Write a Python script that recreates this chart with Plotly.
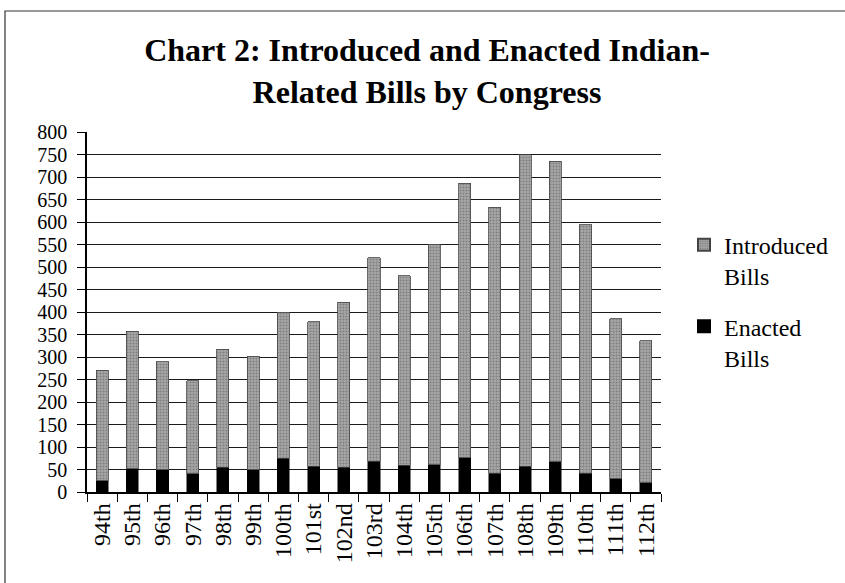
import plotly.graph_objects as go

congresses = ["94th", "95th", "96th", "97th", "98th", "99th", "100th", "101st", "102nd",
              "103rd", "104th", "105th", "106th", "107th", "108th", "109th", "110th",
              "111th", "112th"]
enacted = [25, 52, 49, 41, 55, 49, 75, 57, 55, 68, 59, 61, 76, 42, 57, 67, 42, 30, 21]
introduced = [246, 305, 240, 206, 262, 253, 325, 321, 367, 453, 422, 490, 610, 591,
              692, 668, 552, 355, 315]
y_ticks = list(range(0, 801, 50))

serif = "Liberation Serif, Times New Roman, serif"

fig = go.Figure()
fig.add_trace(go.Bar(
    x=congresses, y=enacted, name="Enacted<br>Bills", legendgroup="enacted",
    legendrank=2,
    marker=dict(color="#000000", line=dict(color="#000000", width=0.5)),
))
fig.add_trace(go.Bar(
    x=congresses, y=introduced, name="Introduced<br>Bills", legendgroup="introduced",
    legendrank=1,
    marker=dict(color="#9a9a9a",
                line=dict(color="#444444", width=0.8),
                pattern=dict(shape=".", fgcolor="#555555", bgcolor="#a8a8a8",
                             size=3, solidity=0.4)),
))

fig.update_layout(
    barmode="stack",
    bargap=0.6,
    width=845, height=583,
    margin=dict(l=87, r=184, t=132, b=91, autoexpand=False),
    paper_bgcolor="white", plot_bgcolor="white",
    font=dict(family=serif, color="#000000"),
    title=dict(text="<b>Chart 2: Introduced and Enacted Indian-<br>Related Bills by Congress</b>",
               font=dict(family=serif, size=32, color="#000000"),
               x=(427 - 87) / 574, xref="paper", xanchor="center",
               y=1 - 61 / 583, yref="container", yanchor="middle"),
    legend=dict(x=(684 - 87) / 574, xanchor="left", y=0.53, yanchor="middle",
                traceorder="grouped", font=dict(family=serif, size=24),
                itemsizing="constant", tracegroupgap=16, bgcolor="rgba(0,0,0,0)",
                itemwidth=30, valign="top"),
    showlegend=True,
)
fig.update_xaxes(
    type="category", showline=True, linecolor="#000000", linewidth=1.5,
    ticks="outside", ticklen=8, tickcolor="#000000", tickwidth=1.2,
    tickson="boundaries", tickangle=-90,
    tickfont=dict(family=serif, size=24, color="#000000"),
    showgrid=False,
)
fig.update_yaxes(
    range=[0, 800], tickvals=y_ticks, ticktext=[str(v) for v in y_ticks],
    showline=True, linecolor="#000000", linewidth=1.5,
    ticks="outside", ticklen=8, tickcolor="#000000", tickwidth=1.2,
    showgrid=True, gridcolor="#1a1a1a", gridwidth=1.2,
    tickfont=dict(family=serif, size=20, color="#000000"),
    ticklabelstandoff=6, zeroline=False,
)
# outer chart frame (top and left edges visible in the reference)
fig.add_shape(type="rect", xref="paper", yref="paper",
              x0=(5 - 87) / 574, x1=(850 - 87) / 574,
              y0=(492 - 600) / 360, y1=(492 - 11) / 360,
              line=dict(color="#333333", width=1.2), fillcolor="rgba(0,0,0,0)",
              layer="below")

fig.write_html("out.html")
